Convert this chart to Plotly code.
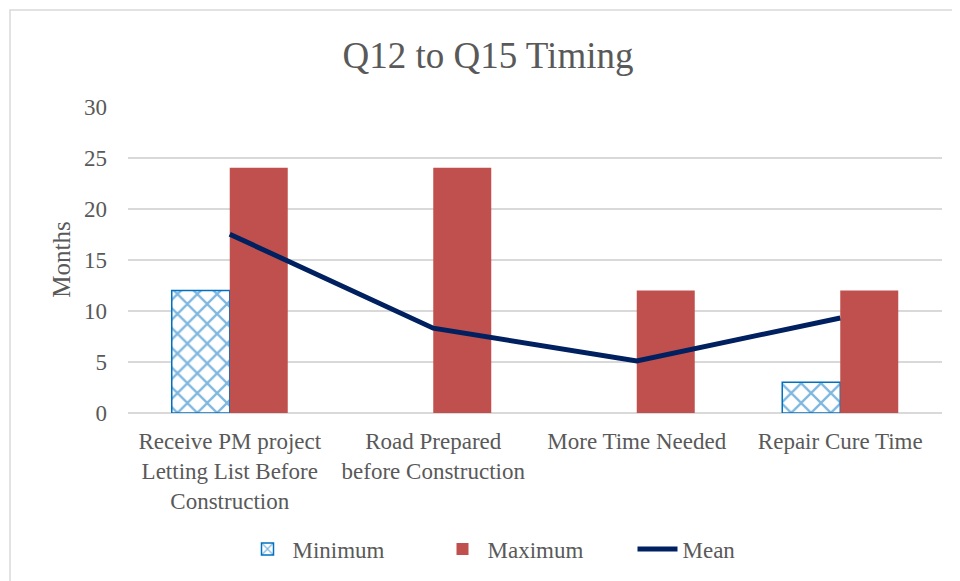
import plotly.graph_objects as go

categories = [
    "Receive PM project<br>Letting List Before<br>Construction",
    "Road Prepared<br>before Construction",
    "More Time Needed",
    "Repair Cure Time",
]
minimum = [12, 0, 0, 3]
maximum = [24, 24, 12, 12]
mean = [17.5, 8.3, 5.1, 9.3]

W, H = 960, 581
# page body has an 8px margin, so everything is placed 8px up/left
ml, mr, mt, mb = 120, 26, 98, 176
font_color = "#595959"
serif = "Liberation Serif, Times New Roman, serif"

fig = go.Figure()

fig.add_trace(go.Bar(
    x=categories,
    y=minimum,
    name="Minimum",
    marker=dict(
        color="white",
        line=dict(color="#0070C0", width=[1.5 if v > 0 else 0 for v in minimum]),
        pattern=dict(shape="x", fgcolor="#0070C0", bgcolor="white", size=14, solidity=0.3),
    ),
))

fig.add_trace(go.Bar(
    x=categories,
    y=maximum,
    name="Maximum",
    marker=dict(color="#C0504D", line=dict(width=0)),
))

fig.add_trace(go.Scatter(
    x=categories,
    y=mean,
    name="Mean",
    mode="lines",
    line=dict(color="#002060", width=5),
))

# chart frame (light grey border like the Office chart area)
pw = W - ml - mr
ph = H - mt - mb
fig.add_shape(
    type="rect", xref="paper", yref="paper",
    x0=(2 - ml) / pw, x1=(W + 20 - ml) / pw,
    y0=-(mb + 20) / ph, y1=(ph + mt - 2) / ph,
    line=dict(color="#D9D9D9", width=1.5), fillcolor="rgba(0,0,0,0)",
    layer="below",
)

fig.update_layout(
    width=W,
    height=H,
    margin=dict(l=ml, r=mr, t=mt, b=mb),
    paper_bgcolor="white",
    plot_bgcolor="white",
    font=dict(family=serif, color=font_color, size=23),
    title=dict(
        text="Q12 to Q15 Timing",
        x=0.5, xanchor="center",
        y=1 - 47 / H, yanchor="middle",
        font=dict(size=37, color=font_color, family=serif),
    ),
    barmode="group",
    bargap=0.43,
    bargroupgap=0,
    showlegend=True,
    legend=dict(
        orientation="h",
        x=0.5, xanchor="center",
        y=-(541 - (mt + ph)) / ph, yanchor="middle",
        font=dict(size=23, color=font_color),
        itemwidth=40,
        entrywidth=140,
        entrywidthmode="pixels",
        traceorder="normal",
    ),
    xaxis=dict(
        showgrid=False,
        showline=False,
        ticks="",
        ticklabelstandoff=12,
        tickfont=dict(size=23, color=font_color),
    ),
    yaxis=dict(
        range=[0, 30.05],
        dtick=5,
        showgrid=True,
        gridcolor="#D9D9D9",
        gridwidth=1.5,
        zeroline=True,
        zerolinecolor="#D9D9D9",
        zerolinewidth=1.5,
        showline=False,
        ticks="",
        ticklabelstandoff=20,
        tickfont=dict(size=23, color=font_color),
        title=dict(text="Months", font=dict(size=25, color=font_color), standoff=6),
    ),
)

fig.write_html("out.html")
